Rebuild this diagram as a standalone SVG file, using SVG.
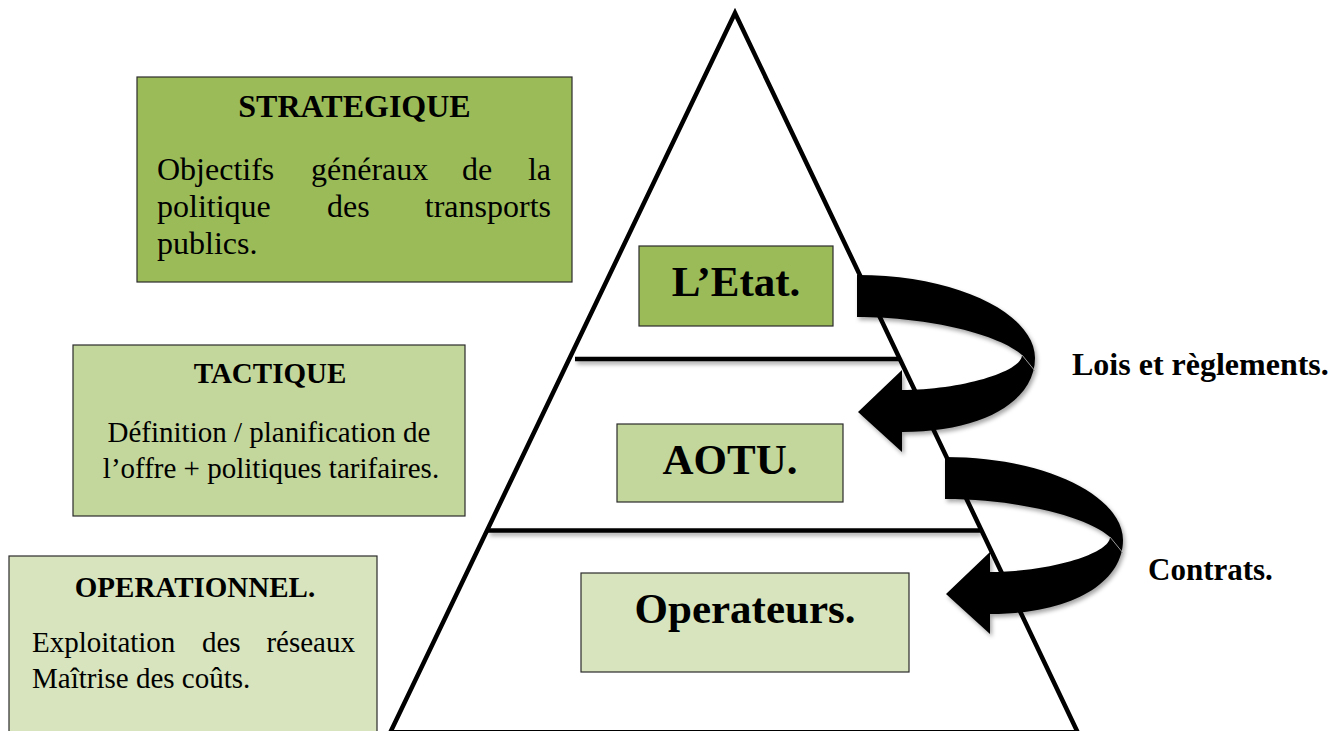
<svg xmlns="http://www.w3.org/2000/svg" xmlns:xlink="http://www.w3.org/1999/xlink" width="1328" height="731" viewBox="0 0 1328 731">
<style>
  text { font-family: "Liberation Serif", "Times New Roman", serif; fill: #000; }
  .b { font-weight: bold; }
  .box { stroke: #2b2b2b; stroke-width: 1.2; }
  .dark { fill: #9BBB59; }
  .mid { fill: #C3D69B; }
  .light { fill: #D7E4BD; }
  .edge { stroke: #000; stroke-width: 4.5; fill: none; stroke-linecap: round; }
  .t32 { font-size: 32px; }
  .t29 { font-size: 29px; }
  .t43 { font-size: 43px; font-weight: bold; }
</style>
<defs>
  <filter id="sh" x="-10%" y="-20%" width="130%" height="160%">
    <feDropShadow dx="2" dy="3" stdDeviation="2" flood-color="#000" flood-opacity="0.35"/>
  </filter>
  <g id="curl">
    <path d="M857,275 C960,275 1035,315 1035,358 C1035,400 985,432 902,432 L902,452 L858,412 L902,370 L902,390 C960,390 1022,372 1022,355 C1000,335 930,317 857,317 Z" fill="#000"/>
    <path d="M1022,355 L1035,371" stroke="#9a9a9a" stroke-width="1" fill="none"/>
  </g>
</defs>
<rect width="1328" height="731" fill="#fff"/>

<g id="strategique">
  <rect class="box dark" x="137" y="77" width="435" height="205"/>
  <text class="b t32" x="354.5" y="117" text-anchor="middle">STRATEGIQUE</text>
  <text class="t32" x="157" y="180">Objectifs</text>
  <text class="t32" x="311" y="180">généraux</text>
  <text class="t32" x="462" y="180">de</text>
  <text class="t32" x="551" y="180" text-anchor="end">la</text>
  <text class="t32" x="157" y="217">politique</text>
  <text class="t32" x="327" y="217">des</text>
  <text class="t32" x="551" y="217" text-anchor="end">transports</text>
  <text class="t32" x="157" y="254">publics.</text>
</g>

<g id="tactique">
  <rect class="box mid" x="73" y="345" width="392" height="171"/>
  <text class="b t29" x="270" y="383" text-anchor="middle">TACTIQUE</text>
  <text class="t29" x="269" y="442" text-anchor="middle">Définition / planification de</text>
  <text class="t29" x="271" y="478" text-anchor="middle">l’offre + politiques tarifaires.</text>
</g>

<g id="operationnel">
  <rect class="box light" x="9" y="556" width="368" height="190"/>
  <text class="b t29" x="195" y="597" text-anchor="middle">OPERATIONNEL.</text>
  <text class="t29" x="32" y="652">Exploitation</text>
  <text class="t29" x="202" y="652">des</text>
  <text class="t29" x="355" y="652" text-anchor="end">réseaux</text>
  <text class="t29" x="32" y="688">Maîtrise des coûts.</text>
</g>

<g id="pyramid">
  <polyline class="edge" points="390,733 735,13 1078,733"/>
  <line x1="389" y1="731.5" x2="1079" y2="731.5" stroke="#000" stroke-width="3"/>
  <g filter="url(#sh)">
    <line x1="575" y1="359" x2="900" y2="359" stroke="#000" stroke-width="4.5"/>
    <line x1="488" y1="530.5" x2="980" y2="530.5" stroke="#000" stroke-width="4.5"/>
  </g>
</g>

<g id="etat">
  <rect class="box dark" x="639" y="246" width="194" height="80"/>
  <text class="t43" x="736" y="296" text-anchor="middle">L’Etat.</text>
</g>

<g id="aotu">
  <rect class="box mid" x="617" y="424" width="226" height="78"/>
  <text class="t43" x="730" y="474" text-anchor="middle">AOTU.</text>
</g>

<g id="operateurs">
  <rect class="box light" x="581" y="573" width="328" height="99"/>
  <text class="t43" x="745" y="623" text-anchor="middle">Operateurs.</text>
</g>

<g id="connectors">
  <g id="arrow-lois" filter="url(#sh)">
    <use xlink:href="#curl"/>
  </g>
  <g id="arrow-contrats" filter="url(#sh)">
    <use xlink:href="#curl" transform="translate(88,182)"/>
  </g>
  <text class="b t32" x="1072" y="375">Lois et règlements.</text>
  <text class="b" x="1148" y="580" font-size="31">Contrats.</text>
</g>
</svg>
